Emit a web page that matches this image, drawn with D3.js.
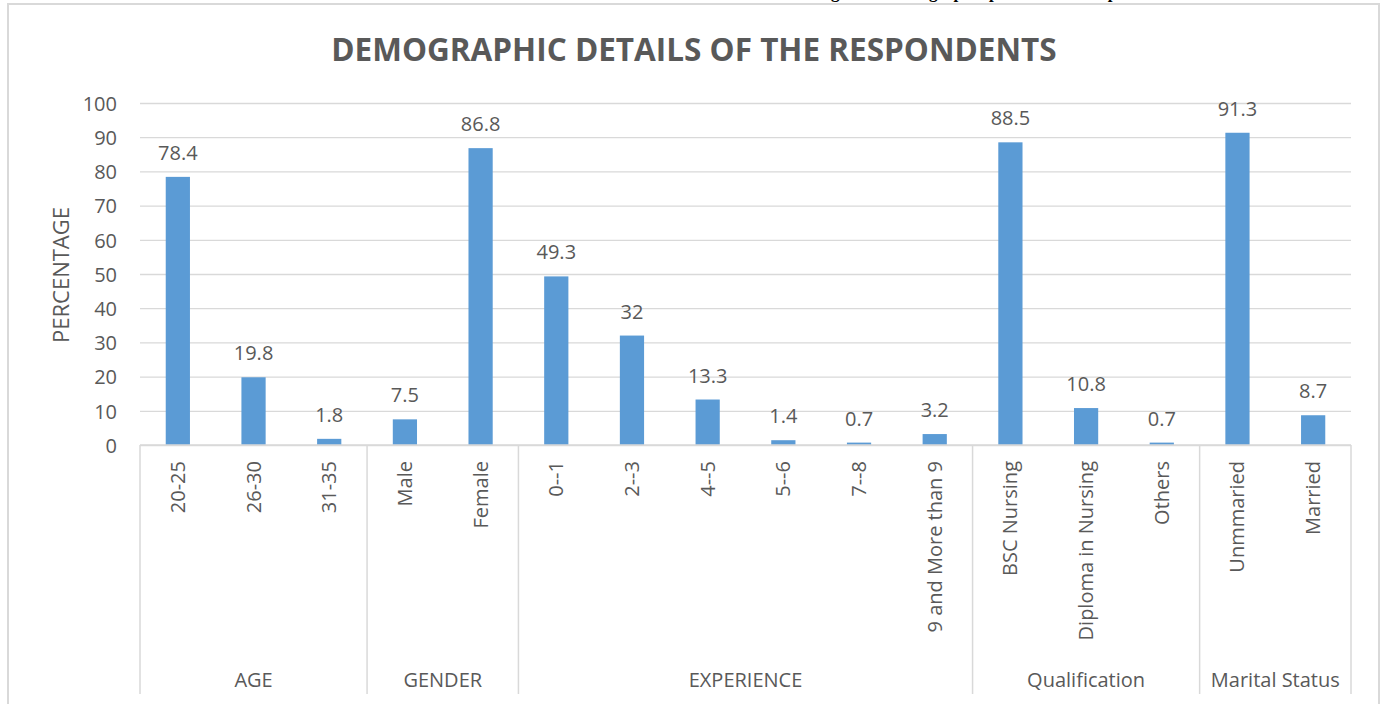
<!DOCTYPE html>
<meta charset="utf-8">
<html>
<script src="https://d3js.org/d3.v7.min.js"></script>
<style>
  body { margin: 0; background: #fff; }
  text { font-family: "Open Sans", Lato, sans-serif; fill: #595959; }
</style>
<div id="chart"></div>
<script>

// chart data
var groups = ["AGE", "GENDER", "EXPERIENCE", "Qualification", "Marital Status"];
var groupSizes = [3, 2, 6, 3, 2];
var categories = ["20-25", "26-30", "31-35", "Male", "Female", "0--1", "2--3", "4--5", "5--6", "7--8",
  "9 and More than 9", "BSC Nursing", "Diploma in Nursing", "Others", "Unmmaried", "Married"];
var values = [78.4, 19.8, 1.8, 7.5, 86.8, 49.3, 32, 13.3, 1.4, 0.7, 3.2, 88.5, 10.8, 0.7, 91.3, 8.7];
var yTicks = [0, 10, 20, 30, 40, 50, 60, 70, 80, 90, 100];

var width = 1382,
    height = 704;
var plotLeft = 140, plotRight = 1351, plotTop = 103, plotBottom = 445;

var svg = d3.select("#chart")
  .append("svg")
    .attr("width", width)
    .attr("height", height);

// caption above the chart box (cut off in the original, only descenders show)
svg.append("text")
    .attr("x", 816)
    .attr("y", -2)
    .attr("text-anchor", "start")
    .style("font-family", "'Liberation Serif', serif")
    .style("font-weight", "bold")
    .style("font-size", "17px")
    .style("fill", "#000")
    .text("Figure 1: Demographic profile of the respondents");

// chart box
svg.append("rect")
    .attr("x", 8)
    .attr("y", 4)
    .attr("width", 1371)
    .attr("height", 720)
    .attr("fill", "#fff")
    .attr("stroke", "#d9d9d9")
    .attr("stroke-width", 2);

var x = d3.scaleBand()
  .domain(d3.range(categories.length))
  .range([plotLeft, plotRight])
  .paddingInner(0.68)
  .paddingOuter(0.34);

var y = d3.scaleLinear()
  .domain([0, 100])
  .range([plotBottom, plotTop]);

// gridlines + y labels
svg.append("g")
  .attr("transform", "translate(" + plotLeft + ",0)")
  .call(d3.axisLeft(y).tickValues(yTicks).tickSize(-(plotRight - plotLeft)).tickPadding(23))
  .call(function(g) {
    g.select(".domain").remove();
    g.selectAll(".tick line").attr("stroke", "#d9d9d9").attr("stroke-width", 1.3);
    g.selectAll(".tick text").style("font-size", "20px").attr("fill", "#595959").attr("dy", "0.36em");
  });

// title
svg.append("text")
    .attr("x", 694)
    .attr("y", 61)
    .attr("text-anchor", "middle")
    .style("font-size", "31.5px")
    .style("font-weight", "bold")
    .text("DEMOGRAPHIC DETAILS OF THE RESPONDENTS");

// y axis title
svg.append("text")
    .attr("transform", "translate(69,275) rotate(-90)")
    .attr("text-anchor", "middle")
    .style("font-size", "22px")
    .text("PERCENTAGE");

// bars
svg.selectAll("rect.bar")
  .data(values)
  .enter().append("rect")
    .attr("class", "bar")
    .attr("x", function(d, i) { return x(i); })
    .attr("width", x.bandwidth())
    .attr("y", function(d) { return y(d); })
    .attr("height", function(d) { return y(0) - y(d); })
    .attr("fill", "#5b9bd5");

// value labels
svg.selectAll("text.val")
  .data(values)
  .enter().append("text")
    .attr("class", "val")
    .attr("x", function(d, i) { return x(i) + x.bandwidth() / 2; })
    .attr("y", function(d) { return y(d) - 17; })
    .attr("text-anchor", "middle")
    .style("font-size", "20px")
    .text(function(d) { return d; });

// baseline
svg.append("line")
    .attr("x1", plotLeft).attr("x2", plotRight)
    .attr("y1", y(0)).attr("y2", y(0))
    .attr("stroke", "#d9d9d9").attr("stroke-width", 1.5);

// category labels
svg.selectAll("text.cat")
  .data(categories)
  .enter().append("text")
    .attr("class", "cat")
    .attr("transform", function(d, i) {
      return "translate(" + (x(i) + x.bandwidth() / 2 + 7) + "," + 461 + ") rotate(-90)";
    })
    .attr("text-anchor", "end")
    .style("font-size", "20px")
    .text(function(d) { return d; });

// group separators and labels
var step = x.step();
var starts = [0];
groupSizes.forEach(function(n, i) { starts.push(starts[i] + n); });

svg.selectAll("line.sep")
  .data(starts)
  .enter().append("line")
    .attr("class", "sep")
    .attr("x1", function(d) { return plotLeft + d * step; })
    .attr("x2", function(d) { return plotLeft + d * step; })
    .attr("y1", y(0))
    .attr("y2", 694)
    .attr("stroke", "#d9d9d9")
    .attr("stroke-width", 1.5);

svg.selectAll("text.grp")
  .data(groups)
  .enter().append("text")
    .attr("class", "grp")
    .attr("x", function(d, i) { return plotLeft + (starts[i] + groupSizes[i] / 2) * step; })
    .attr("y", 687)
    .attr("text-anchor", "middle")
    .style("font-size", "20px")
    .text(function(d) { return d; });

</script>
</html>
